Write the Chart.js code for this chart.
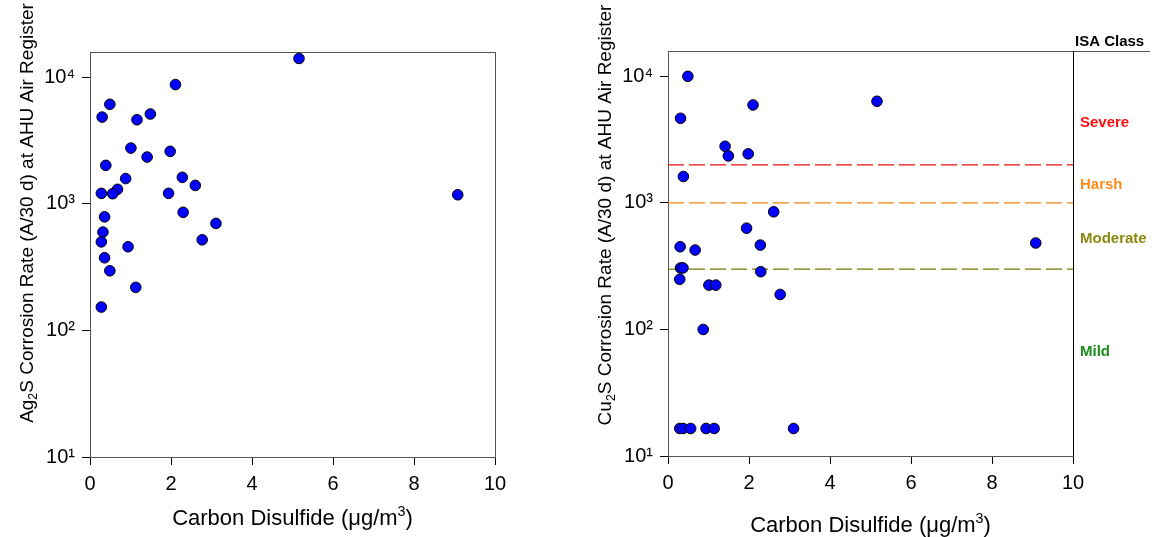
<!DOCTYPE html>
<html>
<head>
<meta charset="utf-8">
<script src="https://cdn.jsdelivr.net/npm/chart.js@4.4.1/dist/chart.umd.min.js"></script>
<style>
  html, body { margin: 0; background: #fff; }
  #wrap { position: relative; width: 1156px; height: 537px; }
  canvas { position: absolute; top: 0; }
  #c1 { left: 0; }
  #c2 { left: 580px; }
</style>
</head>
<body>
<div id="wrap">
  <canvas id="c1" width="580" height="537"></canvas>
  <canvas id="c2" width="576" height="537"></canvas>
</div>
<script>
'use strict';

// ── Data ──────────────────────────────────────────────────────
// Ag2S panel: carbon disulfide (ug/m3) vs corrosion rate (A/30 d)
const agCs2  = [5.16, 2.11, 0.49, 0.30, 1.16, 1.49, 1.01, 1.41, 1.98, 0.39,
                0.88, 0.68, 0.28, 0.56, 1.94, 2.28, 2.60, 9.08, 2.30, 3.11,
                0.36, 0.32, 0.28, 0.94, 2.77, 0.36, 0.49, 1.13, 0.28];
const agRate = [14100, 8760, 6120, 4850, 4620, 5130, 2760, 2345, 2600, 2015,
                1585, 1303, 1211, 1203, 1211, 1620, 1400, 1180, 857, 701,
                790, 599, 501, 458, 520, 375, 296, 219, 153];

// Cu2S panel
const cuCs2  = [0.49, 0.31, 2.10, 5.16, 1.41, 1.49, 1.98, 0.38, 2.61, 1.94,
                2.28, 0.30, 0.67, 0.31, 0.37, 2.29, 0.29, 1.01, 1.18, 2.77,
                0.87, 0.29, 0.37, 0.56, 0.94, 1.14, 3.10, 9.08];
const cuRate = [10000, 4660, 5940, 6350, 2800, 2350, 2440, 1616, 850, 631,
                464, 450, 424, 306, 306, 286, 249, 224, 224, 189,
                100, 16.5, 16.5, 16.5, 16.5, 16.5, 16.5, 482];

// ISA class limits (Cu2S) and class names
const isaLimits  = [2000, 1000, 300];
const isaClasses = ['Severe', 'Harsh', 'Moderate', 'Mild'];

// Axis ticks
const xTickStep   = 2;
const yTickValues = [10, 100, 1000, 10000];
const yTickLabels = ['10\u00B9', '10\u00B2', '10\u00B3', '10\u2074'];

// ── Styling ───────────────────────────────────────────────────
const FONT      = "'Liberation Sans', Arial, sans-serif";
const DOT_FILL  = '#0000ff';
const LIM_COLS  = ['#e81010', '#f78014', '#767600'];
const CLS_COLS  = ['#ff1010', '#ff8c1a', '#8a8a10', '#1a8c1a'];
const AXIS_COL  = '#555';

const toPts = (xs, ys) => xs.map((x, i) => ({ x, y: ys[i] }));

// rich text: parts = [[text, mode]] mode 0 normal, -1 sub, 1 sup
function richWidth(ctx, parts, size) {
  let w = 0;
  parts.forEach(([t, m]) => {
    ctx.font = (m ? size * 0.65 : size) + 'px ' + FONT;
    w += ctx.measureText(t).width;
  });
  return w;
}
function drawRich(ctx, parts, cx, base, size) {
  let x = cx - richWidth(ctx, parts, size) / 2;
  ctx.textBaseline = 'alphabetic';
  ctx.textAlign = 'left';
  parts.forEach(([t, m]) => {
    ctx.font = (m ? size * 0.65 : size) + 'px ' + FONT;
    const dy = m === -1 ? size * 0.22 : m === 1 ? -size * 0.42 : 0;
    ctx.fillText(t, x, base + dy);
    x += ctx.measureText(t).width;
  });
}

// ── Plugins ───────────────────────────────────────────────────
const framePlugin = {
  id: 'frame',
  beforeDatasetsDraw(chart, args, o) {
    const { ctx, chartArea: a } = chart;
    ctx.save();
    ctx.lineWidth = 1;
    ctx.strokeStyle = AXIS_COL;
    ctx.beginPath();
    ctx.moveTo(a.left, a.top + 0.5);
    ctx.lineTo(o.topRight || a.right, a.top + 0.5);
    ctx.stroke();
    ctx.strokeStyle = o.rightColor || AXIS_COL;
    ctx.beginPath();
    ctx.moveTo(a.right + 0.5, a.top);
    ctx.lineTo(a.right + 0.5, a.bottom);
    ctx.stroke();
    ctx.restore();
  }
};

const titlePlugin = {
  id: 'titles',
  afterDraw(chart, args, o) {
    const { ctx, chartArea: a } = chart;
    ctx.save();
    ctx.fillStyle = '#000';
    drawRich(ctx, o.x, (a.left + a.right) / 2, o.xBase, 22);
    ctx.translate(o.yBase, o.yMid);
    ctx.rotate(-Math.PI / 2);
    drawRich(ctx, o.y, 0, 0, 19);
    ctx.restore();
  }
};

const isaPlugin = {
  id: 'isa',
  afterDraw(chart, args, o) {
    if (!o.show) return;
    const { ctx, chartArea: a, scales } = chart;
    ctx.save();
    ctx.textBaseline = 'middle';
    ctx.textAlign = 'left';
    ctx.font = 'bold 15px ' + FONT;
    ctx.fillStyle = '#000';
    ctx.fillText('ISA Class', a.right + 2, a.top - 9);
    isaClasses.forEach((c, i) => {
      ctx.fillStyle = CLS_COLS[i];
      ctx.fillText(c, a.right + 7, scales.y.getPixelForValue(o.at[i]));
    });
    ctx.restore();
  }
};

// ── Chart factory ─────────────────────────────────────────────
function makePanel(id, pts, cfg) {
  const limitSets = (cfg.limits ? isaLimits : []).map((v, i) => ({
    type: 'line',
    data: [{ x: 0, y: v }, { x: 10, y: v }],
    borderColor: LIM_COLS[i],
    borderWidth: 1.3,
    borderDash: [16, 5],
    pointRadius: 0,
    fill: false,
    order: 2
  }));

  return new Chart(document.getElementById(id), {
    type: 'scatter',
    data: {
      datasets: [{
        data: pts,
        backgroundColor: DOT_FILL,
        borderColor: '#000',
        borderWidth: 1,
        pointRadius: 5.3,
        order: 1
      }, ...limitSets]
    },
    options: {
      responsive: false,
      animation: false,
      events: [],
      layout: { padding: { top: cfg.top, right: cfg.right, left: 0, bottom: 0 } },
      plugins: {
        legend: { display: false },
        tooltip: { enabled: false },
        frame: { topRight: cfg.topRight, rightColor: cfg.rightColor },
        titles: cfg.titles,
        isa: { show: !!cfg.limits, at: [4300, 1400, 520, 66] }
      },
      scales: {
        x: {
          type: 'linear', min: 0, max: 10,
          afterFit: s => { s.height = cfg.xH; },
          border: { display: true, color: AXIS_COL, width: 1 },
          grid: { drawOnChartArea: false, drawTicks: true, tickLength: 8, color: '#000' },
          ticks: { stepSize: xTickStep, color: '#000', padding: 7,
                   font: { family: FONT, size: 20 }, maxRotation: 0 }
        },
        y: {
          type: 'logarithmic', min: 10, max: 15850,
          afterFit: s => { s.width = cfg.yW; },
          afterBuildTicks: s => { s.ticks = yTickValues.map(v => ({ value: v, major: true })); },
          border: { display: true, color: AXIS_COL, width: 1 },
          grid: { drawOnChartArea: false, drawTicks: true, tickLength: 8, color: '#000' },
          ticks: { color: '#000', padding: 7, font: { family: FONT, size: 20 },
                   callback: v => yTickLabels[yTickValues.indexOf(v)] ?? '' }
        }
      }
    },
    plugins: [framePlugin, titlePlugin, isaPlugin]
  });
}

makePanel('c1', toPts(agCs2, agRate), {
  top: 52, right: 85, yW: 90, xH: 80,
  titles: {
    x: [['Carbon Disulfide (\u03BCg/m', 0], ['3', 1], [')', 0]], xBase: 525,
    y: [['Ag', 0], ['2', -1], ['S Corrosion Rate (A/30 d) at AHU Air Register', 0]],
    yBase: 33, yMid: 213
  }
});

makePanel('c2', toPts(cuCs2, cuRate), {
  top: 51, right: 83, yW: 88, xH: 81, limits: true,
  topRight: 570, rightColor: '#000',
  titles: {
    x: [['Carbon Disulfide (\u03BCg/m', 0], ['3', 1], [')', 0]], xBase: 532,
    y: [['Cu', 0], ['2', -1], ['S Corrosion Rate (A/30 d) at AHU Air Register', 0]],
    yBase: 31, yMid: 215
  }
});
</script>
</body>
</html>
